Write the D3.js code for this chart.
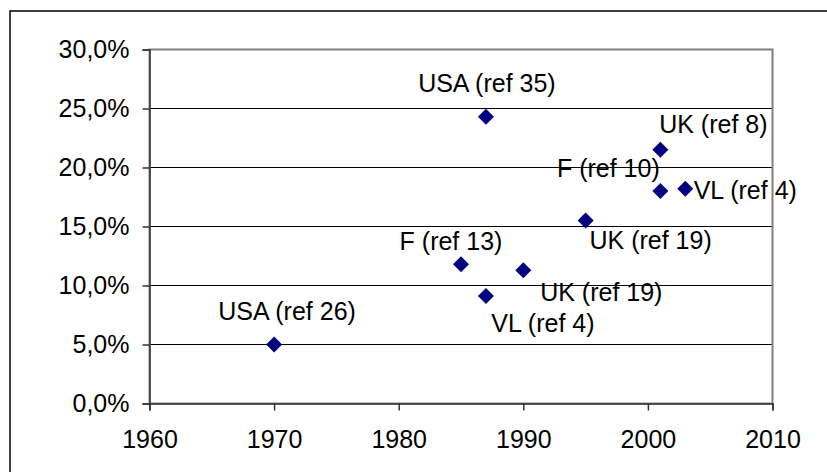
<!DOCTYPE html>
<html>
<head>
<meta charset="utf-8">
<script src="https://cdn.jsdelivr.net/npm/d3@7"></script>
<style>
  body { margin: 0; background: #fff; }
  svg { display: block; }
  text { font-family: "Liberation Sans", Arial, sans-serif; fill: #000; }
</style>
</head>
<body>
<svg width="827" height="472"></svg>
<script>
// data
var labels = ["USA (ref 26)", "USA (ref 35)", "F (ref 13)", "VL (ref 4)", "UK (ref 19)",
              "UK (ref 19)", "UK (ref 8)", "F (ref 10)", "VL (ref 4)"];
var years  = [1970, 1987, 1985, 1987, 1990, 1995, 2001, 2001, 2003];
var shares = [5.0, 24.3, 11.8, 9.1, 11.3, 15.5, 21.5, 18.0, 18.2];
var xTicks = [1960, 1970, 1980, 1990, 2000, 2010];
var yTicks = [0, 5, 10, 15, 20, 25, 30];

// where each label sits relative to its marker (manual, like the original)
var labelDx = [13, 1, -10, 57, 78, 65, 53, -52, 60];
var labelDy = [-25, -25, -14, 36, 31, 28, -17, -14, 10];

var svg = d3.select("svg"),
    margin = {top: 49.5, right: 55, bottom: 69, left: 149.5},
    width = 623,
    height = 354;

// outer chart frame (runs off the right and bottom edge)
svg.append("rect")
    .attr("x", 10).attr("y", 11)
    .attr("width", 900).attr("height", 600)
    .attr("fill", "none")
    .attr("stroke", "#000")
    .attr("stroke-width", 1.5);

var g = svg.append("g").attr("transform", "translate(" + margin.left + "," + margin.top + ")");

var x = d3.scaleLinear().domain([1960, 2010]).range([0, width]);
var y = d3.scaleLinear().domain([0, 30]).range([height, 0]);

// gridlines
g.selectAll(".grid")
  .data(yTicks.filter(function(d) { return d > 0 && d < 30; }))
  .enter().append("line")
    .attr("class", "grid")
    .attr("x1", 0).attr("x2", width)
    .attr("y1", function(d) { return y(d); })
    .attr("y2", function(d) { return y(d); })
    .attr("stroke", "#000")
    .attr("stroke-width", 1);

// plot area border
g.append("rect")
    .attr("width", width).attr("height", height)
    .attr("fill", "none")
    .attr("stroke", "#808080")
    .attr("stroke-width", 2);

var fmt = function(d) { return d3.format(".1f")(d).replace(".", ",") + "%"; };

var yAxis = g.append("g")
    .call(d3.axisLeft(y).tickValues(yTicks).tickFormat(fmt).tickSize(7).tickPadding(13));

var xAxis = g.append("g")
    .attr("transform", "translate(0," + height + ")")
    .call(d3.axisBottom(x).tickValues(xTicks).tickFormat(d3.format("d")).tickSize(7).tickPadding(20));

[yAxis, xAxis].forEach(function(a) {
  a.select(".domain").attr("stroke", "#333").attr("stroke-width", 1.5);
  a.selectAll(".tick line").attr("stroke", "#333").attr("stroke-width", 1.5);
  a.selectAll("text").style("font-size", "25px").attr("fill", "#000")
    .style("font-family", "'Liberation Sans', Arial, sans-serif");
});

var pts = years.map(function(d, i) { return {year: d, share: shares[i], label: labels[i], i: i}; });

g.selectAll(".pt")
  .data(pts)
  .enter().append("path")
    .attr("class", "pt")
    .attr("d", d3.symbol().type(d3.symbolSquare).size(128))
    .attr("transform", function(d) { return "translate(" + x(d.year) + "," + y(d.share) + ") rotate(45)"; })
    .attr("fill", "#000080");

g.selectAll(".lbl")
  .data(pts)
  .enter().append("text")
    .attr("class", "lbl")
    .attr("x", function(d) { return x(d.year) + labelDx[d.i]; })
    .attr("y", function(d) { return y(d.share) + labelDy[d.i]; })
    .attr("text-anchor", "middle")
    .style("font-size", "25px")
    .text(function(d) { return d.label; });
</script>
</body>
</html>
